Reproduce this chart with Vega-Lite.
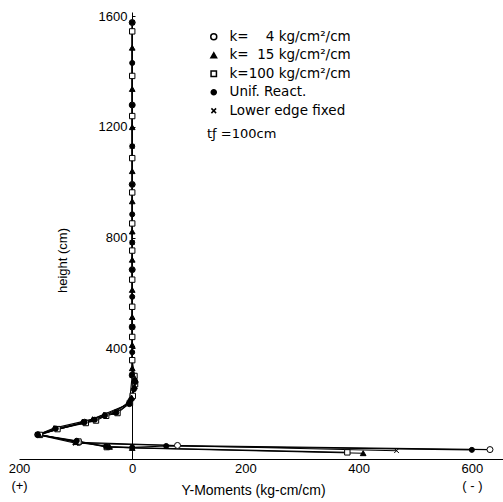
{
  "$schema": "https://vega.github.io/schema/vega-lite/v6.json",
  "width": 484,
  "height": 447,
  "autosize": {"type": "none"},
  "padding": {"left": 19, "top": 12, "right": 0, "bottom": 43},
  "background": "white",
  "config": {
    "view": {"stroke": null},
    "font": "Liberation Sans",
    "axis": {
      "grid": false,
      "domainColor": "black",
      "domainWidth": 1,
      "tickColor": "black",
      "labelColor": "black",
      "titleColor": "black",
      "labelFontSize": 13,
      "titleFontSize": 13,
      "titleFontWeight": "normal"
    },
    "legend": {
      "orient": "none",
      "legendX": 188,
      "legendY": 18,
      "titleOrient": "bottom",
      "titleFont": "DejaVu Sans",
      "titleFontSize": 13,
      "titleFontWeight": "normal",
      "titleColor": "black",
      "titlePadding": 11,
      "labelFont": "DejaVu Sans",
      "labelFontSize": 13.5,
      "labelColor": "black",
      "labelOffset": 9,
      "rowPadding": 3.5,
      "symbolSize": 100
    }
  },
  "data": {
    "values": [
      {"s": "a", "o": 1, "m": 0, "h": 1577},
      {"s": "a", "o": 2, "m": 0, "h": 1279},
      {"s": "a", "o": 3, "m": 0, "h": 992},
      {"s": "a", "o": 4, "m": 0, "h": 684},
      {"s": "a", "o": 5, "m": 0, "h": 477},
      {"s": "a", "o": 6, "m": 0, "h": 303},
      {"s": "a", "o": 7, "m": -5, "h": 278},
      {"s": "a", "o": 8, "m": 5, "h": 200},
      {"s": "a", "o": 9, "m": 84, "h": 133},
      {"s": "a", "o": 10, "m": 167, "h": 88},
      {"s": "a", "o": 11, "m": 94, "h": 60},
      {"s": "a", "o": 12, "m": -80, "h": 49},
      {"s": "a", "o": 13, "m": -632, "h": 34},

      {"s": "e", "o": 1, "m": 0, "h": 1577},
      {"s": "e", "o": 2, "m": 0, "h": 1130},
      {"s": "e", "o": 3, "m": 0, "h": 782},
      {"s": "e", "o": 4, "m": 0, "h": 477},
      {"s": "e", "o": 5, "m": 0, "h": 303},
      {"s": "e", "o": 6, "m": 5, "h": 200},
      {"s": "e", "o": 7, "m": 66, "h": 142},
      {"s": "e", "o": 8, "m": 167, "h": 88},
      {"s": "e", "o": 9, "m": 100, "h": 57},
      {"s": "e", "o": 10, "m": -467, "h": 30},

      {"s": "c", "o": 1, "m": 0, "h": 1545},
      {"s": "c", "o": 2, "m": 0, "h": 1384},
      {"s": "c", "o": 3, "m": 0, "h": 1239},
      {"s": "c", "o": 4, "m": 0, "h": 1087},
      {"s": "c", "o": 5, "m": 0, "h": 963},
      {"s": "c", "o": 6, "m": 0, "h": 851},
      {"s": "c", "o": 7, "m": 0, "h": 753},
      {"s": "c", "o": 8, "m": 0, "h": 648},
      {"s": "c", "o": 9, "m": 0, "h": 550},
      {"s": "c", "o": 10, "m": 0, "h": 441},
      {"s": "c", "o": 11, "m": 0, "h": 357},
      {"s": "c", "o": 12, "m": -4, "h": 300},
      {"s": "c", "o": 13, "m": -5, "h": 270},
      {"s": "c", "o": 14, "m": -1, "h": 228},
      {"s": "c", "o": 15, "m": 4, "h": 203},
      {"s": "c", "o": 16, "m": 26, "h": 166},
      {"s": "c", "o": 17, "m": 46, "h": 156},
      {"s": "c", "o": 18, "m": 64, "h": 139},
      {"s": "c", "o": 19, "m": 82, "h": 130},
      {"s": "c", "o": 20, "m": 132, "h": 108},
      {"s": "c", "o": 21, "m": 163, "h": 87},
      {"s": "c", "o": 22, "m": 95, "h": 63},
      {"s": "c", "o": 23, "m": 45, "h": 43},
      {"s": "c", "o": 24, "m": -380, "h": 24},

      {"s": "b", "o": 1, "m": 0, "h": 1486},
      {"s": "b", "o": 2, "m": 0, "h": 1337},
      {"s": "b", "o": 3, "m": 0, "h": 1199},
      {"s": "b", "o": 4, "m": 0, "h": 1040},
      {"s": "b", "o": 5, "m": 0, "h": 931},
      {"s": "b", "o": 6, "m": 0, "h": 822},
      {"s": "b", "o": 7, "m": 0, "h": 720},
      {"s": "b", "o": 8, "m": 0, "h": 611},
      {"s": "b", "o": 9, "m": 0, "h": 513},
      {"s": "b", "o": 10, "m": 0, "h": 412},
      {"s": "b", "o": 11, "m": 0, "h": 328},
      {"s": "b", "o": 12, "m": -5, "h": 290},
      {"s": "b", "o": 13, "m": -4, "h": 262},
      {"s": "b", "o": 14, "m": 1, "h": 222},
      {"s": "b", "o": 15, "m": 6, "h": 206},
      {"s": "b", "o": 16, "m": 30, "h": 170},
      {"s": "b", "o": 17, "m": 50, "h": 160},
      {"s": "b", "o": 18, "m": 70, "h": 144},
      {"s": "b", "o": 19, "m": 88, "h": 135},
      {"s": "b", "o": 20, "m": 138, "h": 112},
      {"s": "b", "o": 21, "m": 165, "h": 89},
      {"s": "b", "o": 22, "m": 100, "h": 61},
      {"s": "b", "o": 23, "m": 40, "h": 44},
      {"s": "b", "o": 24, "m": 0, "h": 40},
      {"s": "b", "o": 25, "m": -408, "h": 21},

      {"s": "d", "o": 1, "m": 0, "h": 1577},
      {"s": "d", "o": 2, "m": 0, "h": 1431},
      {"s": "d", "o": 3, "m": 0, "h": 1279},
      {"s": "d", "o": 4, "m": 0, "h": 1130},
      {"s": "d", "o": 5, "m": 0, "h": 992},
      {"s": "d", "o": 6, "m": 0, "h": 884},
      {"s": "d", "o": 7, "m": 0, "h": 782},
      {"s": "d", "o": 8, "m": 0, "h": 684},
      {"s": "d", "o": 9, "m": 0, "h": 586},
      {"s": "d", "o": 10, "m": 0, "h": 477},
      {"s": "d", "o": 11, "m": 0, "h": 386},
      {"s": "d", "o": 12, "m": 0, "h": 303},
      {"s": "d", "o": 13, "m": -5, "h": 278},
      {"s": "d", "o": 14, "m": -3, "h": 252},
      {"s": "d", "o": 15, "m": 2, "h": 215},
      {"s": "d", "o": 16, "m": 5, "h": 200},
      {"s": "d", "o": 17, "m": 28, "h": 168},
      {"s": "d", "o": 18, "m": 48, "h": 158},
      {"s": "d", "o": 19, "m": 66, "h": 142},
      {"s": "d", "o": 20, "m": 84, "h": 133},
      {"s": "d", "o": 21, "m": 135, "h": 110},
      {"s": "d", "o": 22, "m": 167, "h": 88},
      {"s": "d", "o": 23, "m": 98, "h": 66},
      {"s": "d", "o": 24, "m": 46, "h": 45},
      {"s": "d", "o": 25, "m": 0, "h": 42},
      {"s": "d", "o": 26, "m": -60, "h": 47},
      {"s": "d", "o": 27, "m": -600, "h": 33}
    ]
  },
  "encoding": {
    "x": {
      "field": "m",
      "type": "quantitative",
      "scale": {"domain": [-655, 200], "reverse": true, "nice": false, "zero": false},
      "axis": {
        "title": "Y-Moments (kg-cm/cm)",
        "values": [200, 0, -200, -400, -600],
        "labelExpr": "datum.value == 200 ? ['200', '(+)'] : datum.value == -600 ? ['600', '( - )'] : format(abs(datum.value), 'd')",
        "ticks": false,
        "labelPadding": 3,
        "labelBaseline": "top",
        "labelLineHeight": 17,
        "labelFlush": false,
        "labelOverlap": false,
        "titleFontSize": 14,
        "titleX": 234,
        "titleY": 24,
        "titleBaseline": "top"
      }
    },
    "y": {
      "field": "h",
      "type": "quantitative",
      "scale": {"domain": [0, 1615], "nice": false},
      "axis": {
        "title": "height (cm)",
        "values": [400, 800, 1200, 1600],
        "format": "d",
        "offset": -113,
        "tickSize": -3,
        "labelPadding": 8,
        "labelFlush": false,
        "titleX": -63,
        "titleY": 248
      }
    }
  },
  "layer": [
    {
      "mark": {"type": "line", "stroke": "black", "strokeWidth": 1.1},
      "encoding": {
        "detail": {"field": "s"},
        "order": {"field": "o", "type": "quantitative"}
      }
    },
    {
      "mark": {"type": "point", "stroke": "black", "strokeWidth": 1, "opacity": 1},
      "encoding": {
        "shape": {
          "field": "s",
          "type": "nominal",
          "title": "tƒ =100cm",
          "scale": {
            "domain": ["a", "b", "c", "d", "e"],
            "range": ["circle", "triangle-up", "square", "circle", "M-1,-1L1,1M-1,1L1,-1"]
          },
          "legend": {
            "labelExpr": "datum.value == 'a' ? 'k=\u2007\u20074 kg/cm\u00b2/cm' : datum.value == 'b' ? 'k=\u200715 kg/cm\u00b2/cm' : datum.value == 'c' ? 'k=100 kg/cm\u00b2/cm' : datum.value == 'd' ? 'Unif. React.' : 'Lower edge fixed'"
          }
        },
        "fill": {
          "field": "s",
          "type": "nominal",
          "title": "tƒ =100cm",
          "scale": {"domain": ["a", "b", "c", "d", "e"], "range": ["white", "black", "white", "black", "black"]},
          "legend": {
            "labelExpr": "datum.value == 'a' ? 'k=\u2007\u20074 kg/cm\u00b2/cm' : datum.value == 'b' ? 'k=\u200715 kg/cm\u00b2/cm' : datum.value == 'c' ? 'k=100 kg/cm\u00b2/cm' : datum.value == 'd' ? 'Unif. React.' : 'Lower edge fixed'"
          }
        },
        "size": {
          "field": "s",
          "type": "nominal",
          "title": "tƒ =100cm",
          "scale": {"domain": ["a", "b", "c", "d", "e"], "range": [36, 22, 14, 36, 25]},
          "legend": {
            "labelExpr": "datum.value == 'a' ? 'k=\u2007\u20074 kg/cm\u00b2/cm' : datum.value == 'b' ? 'k=\u200715 kg/cm\u00b2/cm' : datum.value == 'c' ? 'k=100 kg/cm\u00b2/cm' : datum.value == 'd' ? 'Unif. React.' : 'Lower edge fixed'"
          }
        }
      }
    }
  ]
}
